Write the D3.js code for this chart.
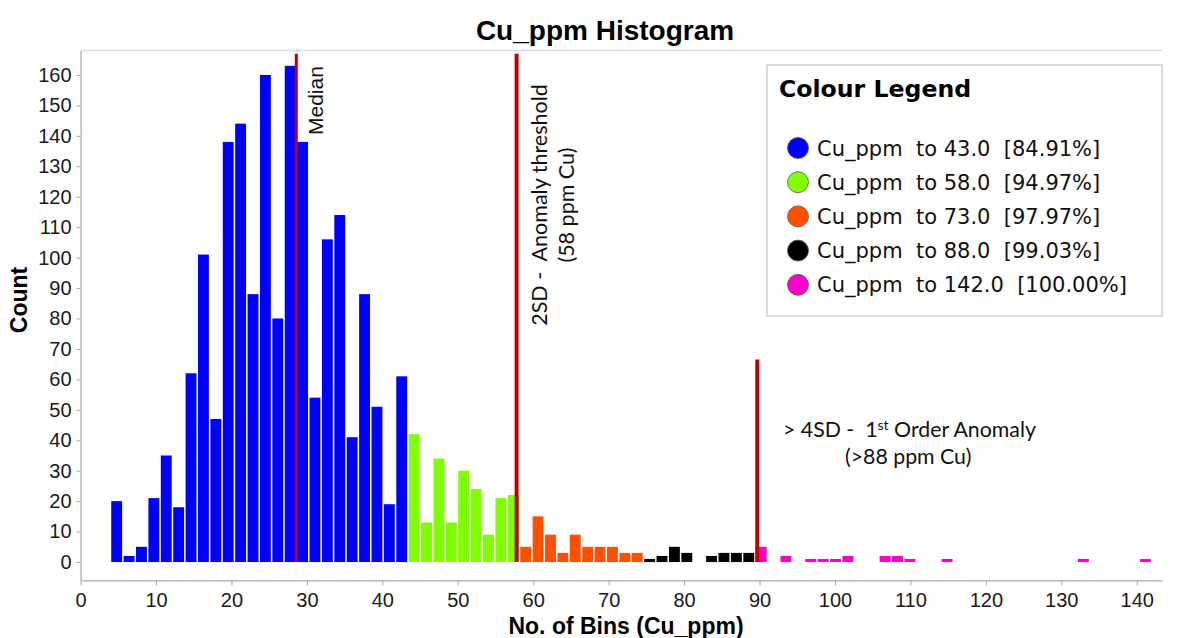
<!DOCTYPE html>
<html><head><meta charset="utf-8">
<script src="https://cdn.jsdelivr.net/npm/d3@7"></script>
<style>body{margin:0;background:#fff}</style>
</head><body><svg id="c" width="1177" height="638"></svg>
<script>
// ---- data ----
const binStart = 4, binEnd = 142, binCount = 84;
const blueCounts = [20,2,5,21,35,18,62,101,47,138,144,88,160,80,163,138,54,106,114,41,88,51,19,61];
const greenCounts = [42,13,34,13,30,24,9,21,22];
const orangeCounts = [5,15,9,3,9,5,5,5,3,3];
const blackCounts = [1,2,5,3,0,2,3,3,3];
const pinkCounts = [5,0,2,0,1,1,1,2,0,0,2,2,1,0,0,1,0,0,0,0,0,0,0,0,0,0,1,0,0,0,0,1];
const classColors = ["#0000ff","#80ff00","#ff5000","#000000","#ff00cc"];
const legendLabels = ["Cu_ppm  to 43.0  [84.91%]","Cu_ppm  to 58.0  [94.97%]","Cu_ppm  to 73.0  [97.97%]","Cu_ppm  to 88.0  [99.03%]","Cu_ppm  to 142.0  [100.00%]"];
const xTicks = [0,10,20,30,40,50,60,70,80,90,100,110,120,130,140];
const yTicks = [0,10,20,30,40,50,60,70,80,90,100,110,120,130,140,150,160];
const refLineNames = ["Median","2SD","4SD"];
const refLineValues = [28.6, 57.8, 89.7];
const refLineTops = [167, 167, 66.5];
const chartTitle = "Cu_ppm Histogram";
const xTitle = "No. of Bins (Cu_ppm)";
const yTitle = "Count";

// ---- build bins ----
const groups = [blueCounts, greenCounts, orangeCounts, blackCounts, pinkCounts];
const binW = (binEnd - binStart) / binCount;
const bins = [];
groups.forEach((arr, g) => arr.forEach(v => {
  const i = bins.length;
  bins.push({x0: binStart + i*binW, x1: binStart + (i+1)*binW, count: v, cls: g});
}));

const svg = d3.select("#c");
const ARIAL = "'Liberation Sans', Arial, sans-serif";
const x = d3.scaleLinear().domain([0, 143.35]).range([80.56, 1162]);
const y = d3.scaleLinear().domain([-6, 168]).range([580.3, 50.6]);

// top frame line
svg.append("line").attr("x1", x(0)).attr("x2", x(143.35)).attr("y1", y(168)).attr("y2", y(168))
  .attr("stroke", "#dcdcdc").attr("stroke-width", 1.5);

// bars
svg.append("g").selectAll("rect").data(bins.filter(d => d.count > 0)).join("rect")
  .attr("x", d => x(d.x0) + 0.5)
  .attr("width", d => x(d.x1) - x(d.x0) - 1.5)
  .attr("y", d => y(d.count))
  .attr("height", d => y(0) - y(d.count))
  .attr("fill", d => classColors[d.cls]);

// axes
const xAxis = svg.append("g").attr("transform", `translate(0,${y(-6)})`)
  .call(d3.axisBottom(x).tickValues(xTicks).tickSize(5).tickPadding(8).tickSizeOuter(0));
const yAxis = svg.append("g").attr("transform", `translate(${x(0)},0)`)
  .call(d3.axisLeft(y).tickValues(yTicks).tickSize(4).tickPadding(5).tickSizeOuter(0));
[xAxis, yAxis].forEach(a => {
  a.attr("font-size", null).attr("font-family", null);
  a.select(".domain").attr("stroke", "#a8a8a8").attr("stroke-width", 1.2);
  a.selectAll(".tick line").attr("stroke", "#a8a8a8");
  a.selectAll(".tick text").attr("fill", "#1a1a1a").style("font-family", ARIAL).style("font-size", "20px");
});

// reference lines
refLineValues.forEach((v, i) => {
  svg.append("line").attr("x1", x(v)).attr("x2", x(v))
    .attr("y1", y(refLineTops[i])).attr("y2", y(0))
    .attr("stroke", "#c00000").attr("stroke-width", i === 0 ? 3 : 4);
});

// annotations
svg.append("text").attr("transform", `translate(${x(refLineValues[0]) + 27},135) rotate(-90)`)
  .style("font-family", ARIAL).style("font-size", "21px").attr("fill", "#111").text(refLineNames[0]);

const CAL = "Lato, 'Open Sans', sans-serif";
const sd2 = svg.append("g").attr("transform", `translate(${x(refLineValues[1])},205) rotate(-90)`)
  .style("font-family", CAL).style("font-size", "21.5px").attr("fill", "#111").attr("text-anchor", "middle");
sd2.append("text").attr("x", 0).attr("y", 30).style("white-space", "pre").text("2SD -  Anomaly threshold");
sd2.append("text").attr("x", 0).attr("y", 57).text("(58 ppm Cu)");

const sd4 = svg.append("text").attr("x", 783).attr("y", 437)
  .style("font-family", CAL).style("font-size", "21.3px").attr("fill", "#111").style("white-space", "pre");
sd4.append("tspan").text("> 4SD -  1");
sd4.append("tspan").attr("dy", -7).style("font-size", "14px").text("st");
sd4.append("tspan").attr("dy", 7).text(" Order Anomaly");
svg.append("text").attr("x", 845).attr("y", 464)
  .style("font-family", CAL).style("font-size", "21.3px").attr("fill", "#111").text("(>88 ppm Cu)");

// titles
svg.append("text").attr("x", 605).attr("y", 40).attr("text-anchor", "middle")
  .style("font-family", ARIAL).style("font-size", "28px").style("font-weight", "bold").text(chartTitle);
svg.append("text").attr("x", 626).attr("y", 634).attr("text-anchor", "middle")
  .style("font-family", ARIAL).style("font-size", "23px").style("font-weight", "bold").text(xTitle);
svg.append("text").attr("transform", "translate(27,300) rotate(-90)").attr("text-anchor", "middle")
  .style("font-family", ARIAL).style("font-size", "23px").style("font-weight", "bold").text(yTitle);

// legend
const lg = svg.append("g");
lg.append("rect").attr("x", 767).attr("y", 65).attr("width", 395).attr("height", 251)
  .attr("fill", "#fff").attr("stroke", "#cfcfcf").attr("stroke-width", 1.5);
lg.append("text").attr("x", 779).attr("y", 97)
  .style("font-family", "'DejaVu Sans', sans-serif").style("font-size", "23.6px").style("font-weight", "bold")
  .text("Colour Legend");
legendLabels.forEach((t, i) => {
  const cy = 148 + i * 34.2;
  lg.append("circle").attr("cx", 798).attr("cy", cy).attr("r", 10.5)
    .attr("fill", classColors[i]).attr("stroke", "#555").attr("stroke-width", 0.8);
  lg.append("text").attr("x", 817).attr("y", cy).attr("dy", "0.36em")
    .style("font-family", "'DejaVu Sans', sans-serif").style("font-size", "21px")
    .style("white-space", "pre").attr("fill", "#111").text(t);
});
</script></body></html>
